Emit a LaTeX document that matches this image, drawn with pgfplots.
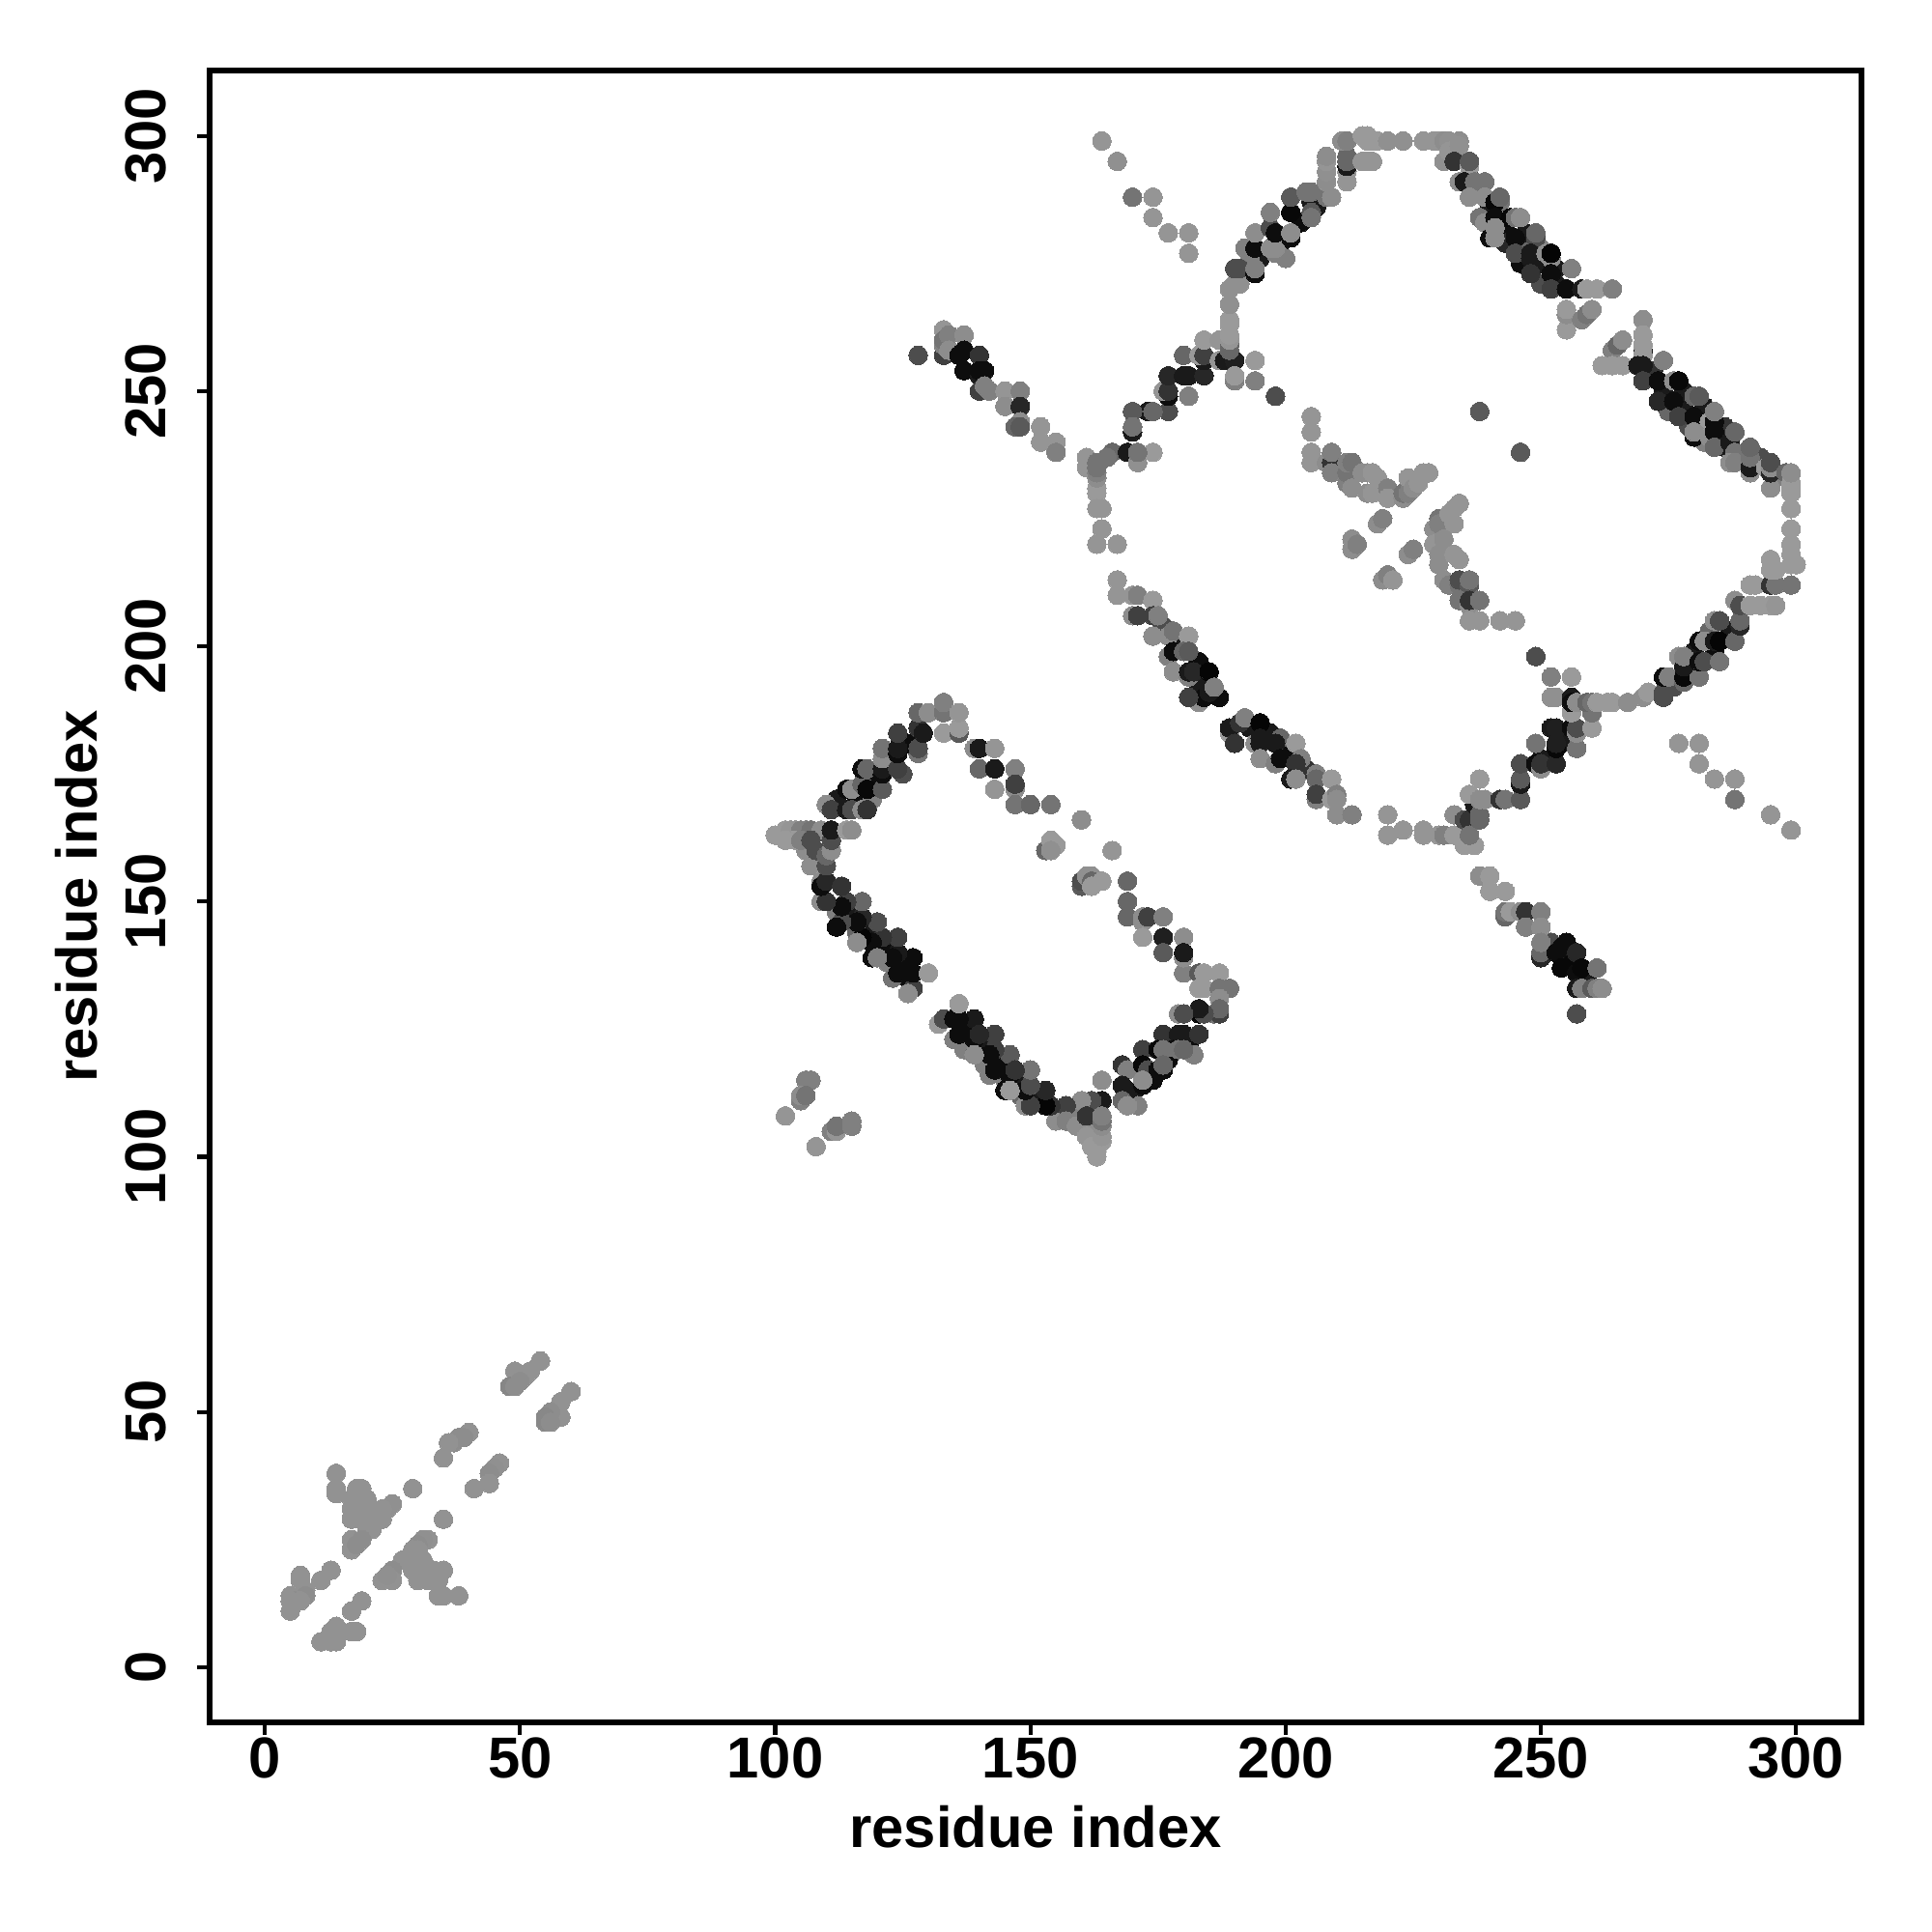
\documentclass[border=0pt]{standalone}
\usepackage{pgfplots}
\pgfplotsset{compat=1.18}
\usepackage{fontspec}
\setmainfont{Liberation Sans}
\pgfplotstableread{
x y g
236 292 .3
238 290 .1
240 286 .1
243 282 .05
243 279 .15
246 279 .4
247 281 .1
250 278 .5
250 275 .1
246 275 .05
253 274 .1
253 271 .1
250 271 .3
272 254 .2
274 250 .1
278 250 .1
278 247 .1
275 246 .4
282 247 .1
282 243 .05
279 243 .3
286 243 .2
286 239 .1
282 240 .5
290 238 .3
293 237 .3
296 233 .5
114 148 .1
118 145 .1
122 141 .05
125 138 .05
126 135 .05
120 143 .1
116 144 .4
112 148 .5
122 138 .5
138 125 .05
141 122 .1
145 118 .1
148 115 .1
152 111 .1
155 109 .3
144 119 .05
137 121 .5
141 118 .5
145 115 .5
148 112 .4
155 107 .55
158 108 .4
170 112 .1
174 115 .05
177 119 .05
181 122 .05
182 120 .5
171 110 .5
112 170 .1
116 170 .05
119 174 .05
122 178 .05
126 181 .05
119 170 .5
125 175 .3
195 276 .1
199 279 .05
203 283 .05
206 286 .1
193 276 .5
200 276 .5
180 200 .1
183 197 .05
183 192 .1
187 190 .05
197 183 .1
201 179 .05
193 184 .1
204 176 .2
176 204 .3
284 199 .05
280 199 .1
276 192 .3
287 203 .1
283 203 .4
255 142 .05
256 138 .03
252 142 .3
259 135 .1
250 178 .1
252 184 .1
254 181 .1
163 101 .6
163 103 .58
162 104 .58
162 106 .58
163 105 .58
163 107 .55
163 109 .5
161 106 .55
160 108 .5
}\extras
\pgfplotstableread{
x y g
164 299 .58
167 295 .56
170 288 .45
174 288 .58
174 284 .58
177 281 .58
181 281 .58
181 277 .58
177 246 .3
173 246 .1
174 246 .4
170 246 .35
170 242 .1
170 243 .45
177 249 .05
176 250 .58
177 250 .2
177 253 .15
180 253 .1
181 253 .1
184 253 .15
181 249 .5
180 257 .4
184 256 .1
183 257 .6
184 257 .25
184 260 .6
187 260 .58
187 256 .58
188 256 .1
190 256 .12
194 256 .6
194 252 .5
190 252 .5
190 253 .6
198 249 .3
189 258 .4
189 259 .4
189 260 .58
189 261 .6
189 263 .6
189 264 .6
189 267 .56
189 270 .56
190 271 .56
191 271 .56
190 274 .3
191 274 .3
194 273 .05
192 278 .5
194 274 .5
194 278 .05
194 281 .55
198 277 .5
197 278 .55
198 278 .55
197 282 .3
198 281 .05
201 280 .05
201 281 .55
197 285 .5
201 285 .03
201 288 .35
205 287 .1
205 285 .35
205 284 .45
204 289 .45
205 289 .45
208 288 .45
209 288 .55
208 291 .55
208 293 .56
208 295 .58
208 296 .55
212 291 .58
212 293 .58
212 294 .1
212 295 .4
212 296 .4
211 299 .55
212 299 .5
215 300 .6
216 300 .6
216 299 .6
217 299 .6
218 299 .6
220 299 .56
223 299 .56
227 299 .58
229 299 .58
230 299 .58
231 299 .55
215 295 .58
216 295 .58
217 295 .58
231 295 .56
%
174 238 .6
166 238 .4
165 237 .45
169 238 .1
171 236 .56
171 238 .45
161 237 .58
161 235 .58
163 230 .6
163 231 .6
163 233 .55
163 234 .5
163 235 .45
163 236 .45
163 227 .58
164 227 .58
164 223 .58
163 220 .58
167 220 .58
167 213 .58
167 210 .58
170 210 .58
171 210 .5
174 209 .6
170 206 .55
171 206 .25
174 206 .25
175 206 .5
174 202 .05
174 202 .55
177 202 .55
178 203 .45
181 202 .6
177 198 .5
178 199 .05
180 199 .4
181 199 .35
178 195 .55
181 194 .5
181 195 .1
182 195 .15
185 195 .02
183 189 .55
184 190 .05
185 191 .1
186 192 .5
181 190 .25
189 183 .6
189 184 .1
191 185 .2
192 186 .5
190 181 .2
195 185 .02
194 181 .55
195 181 .1
195 182 .1
199 182 .4
198 181 .1
202 181 .6
195 178 .55
198 177 .5
199 178 .05
203 178 .5
202 177 .2
201 174 .1
202 174 .55
206 175 .5
206 174 .4
209 174 .6
206 170 .5
206 171 .25
209 170 .6
210 171 .5
210 170 .55
210 167 .55
213 167 .5
220 167 .58
220 163 .58
223 164 .58
227 163 .58
227 164 .58
230 163 .58
231 163 .5
%
233 163 .6
233 167 .55
235 166 .3
236 166 .2
235 161 .6
237 161 .6
236 163 .45
237 169 .1
238 166 .4
238 167 .4
236 171 .6
238 170 .55
239 170 .55
238 174 .6
242 170 .2
243 170 .45
246 170 .35
246 173 .1
246 174 .35
246 177 .3
249 177 .05
250 176 .55
250 177 .2
253 177 .15
249 181 .45
253 180 .03
253 181 .12
257 180 .45
253 184 .12
256 184 .05
257 183 .55
257 184 .3
260 184 .6
256 187 .6
260 187 .45
249 198 .3
252 194 .5
256 194 .6
252 190 .56
253 190 .56
256 190 .1
256 189 .05
257 189 .55
259 189 .4
260 189 .45
261 189 .6
263 189 .6
264 189 .6
267 189 .55
270 190 .55
271 191 .6
274 190 .3
274 191 .3
274 194 .05
275 194 .5
278 193 .4
278 194 .03
281 194 .45
277 198 .55
278 196 .1
278 198 .5
281 197 .05
282 197 .3
285 197 .45
281 201 .05
282 201 .55
284 201 .1
285 201 .02
288 201 .4
284 205 .55
285 205 .3
289 204 .15
289 205 .4
288 209 .55
289 208 .3
291 208 .6
293 208 .6
295 208 .6
296 208 .58
291 212 .6
292 212 .6
295 212 .2
296 212 .45
299 212 .45
295 215 .6
296 215 .6
295 217 .6
299 216 .6
299 218 .6
300 216 .6
299 220 .6
299 223 .6
299 227 .6
%
234 299 .55
232 299 .56
232 297 .58
234 298 .56
233 295 .2
236 294 .6
236 295 .35
234 291 .55
235 291 .1
237 291 .45
239 291 .45
236 288 .55
239 288 .55
242 287 .45
241 287 .03
242 288 .4
238 284 .45
240 283 .05
239 283 .55
241 284 .05
244 284 .03
245 284 .45
246 284 .55
240 280 .05
241 280 .55
241 282 .55
245 280 .05
249 280 .3
249 281 .4
245 277 .3
248 276 .1
248 277 .1
251 277 .55
252 276 .55
252 277 .02
248 273 .2
252 273 .05
256 274 .5
252 270 .25
255 270 .05
258 270 .1
259 270 .6
261 270 .6
264 270 .5
255 262 .6
255 265 .55
255 266 .6
258 264 .5
259 265 .45
260 266 .55
%
270 264 .55
270 261 .6
270 258 .1
270 259 .6
270 257 .6
264 258 .5
265 259 .4
266 260 .55
262 255 .6
264 255 .6
266 255 .6
269 255 .1
270 255 .1
274 256 .5
270 252 .25
273 252 .05
276 252 .55
277 252 .03
273 248 .15
276 248 .05
280 249 .4
281 249 .35
277 245 .25
280 245 .05
283 244 .6
284 244 .05
284 246 .5
280 241 .05
280 242 .55
283 241 .55
284 242 .05
284 239 .4
287 240 .1
288 242 .4
288 238 .45
287 236 .55
288 236 .5
291 234 .55
291 235 .1
291 237 .45
291 239 .4
294 235 .6
295 231 .55
295 234 .15
295 235 .55
295 236 .3
298 234 .4
299 230 .6
299 231 .6
299 232 .6
299 234 .55
238 246 .35
246 238 .35
%
238 155 .55
240 155 .6
240 152 .6
243 152 .6
243 147 .4
243 148 .45
244 148 .6
246 148 .55
247 148 .2
250 148 .5
247 145 .5
250 145 .55
250 139 .15
250 140 .4
250 142 .5
253 140 .05
254 141 .05
257 140 .15
254 137 .03
257 136 .05
258 137 .03
261 137 .45
257 133 .1
258 133 .5
260 133 .35
261 133 .5
262 133 .55
257 128 .3
277 181 .58
281 181 .58
281 177 .58
284 174 .58
288 174 .58
288 170 .45
295 167 .58
299 164 .58
%
128 257 .3
133 262 .58
133 257 .25
133 259 .5
133 260 .45
134 261 .5
134 258 .55
137 261 .55
136 257 .05
137 258 .05
140 257 .2
137 254 .05
140 253 .1
140 254 .05
141 254 .05
140 250 .25
141 251 .5
142 250 .5
145 250 .58
148 250 .5
145 247 .55
148 247 .15
148 244 .55
147 243 .4
148 243 .35
152 243 .58
152 240 .58
155 240 .58
155 238 .5
%
205 245 .58
205 242 .58
205 238 .58
205 236 .58
208 236 .55
209 236 .2
209 238 .5
209 234 .5
212 232 .5
212 234 .45
212 236 .5
213 236 .45
213 231 .55
215 234 .55
216 230 .55
216 234 .55
217 230 .58
217 234 .58
218 233 .58
220 231 .5
220 229 .58
223 229 .55
223 230 .45
224 230 .5
224 233 .58
225 231 .55
226 232 .58
227 234 .58
228 234 .58
218 224 .55
219 225 .5
213 221 .55
213 219 .55
214 220 .5
224 218 .55
225 219 .5
219 213 .55
220 214 .5
221 213 .58
229 223 .55
230 225 .45
231 224 .55
230 224 .5
232 226 .58
233 227 .58
234 228 .58
233 224 .58
229 220 .58
231 221 .55
230 218 .55
230 216 .55
233 218 .58
234 217 .58
231 213 .55
232 212 .5
234 212 .45
234 213 .3
236 212 .35
236 213 .45
234 209 .45
236 208 .55
236 209 .2
238 209 .45
236 205 .58
238 205 .58
242 205 .58
245 205 .58
%
180 136 .5
183 136 .35
184 136 .6
187 136 .6
183 133 .6
184 133 .6
187 133 .45
189 133 .45
187 131 .55
186 128 .45
187 128 .25
187 129 .4
183 128 .02
184 128 .3
183 129 .1
179 128 .55
180 128 .3
176 124 .2
179 124 .1
180 124 .1
183 124 .2
172 121 .25
178 121 .05
175 121 .03
176 121 .45
179 121 .45
180 121 .4
168 118 .2
169 117 .5
172 118 .03
173 117 .3
175 117 .05
176 117 .05
176 118 .4
168 114 .1
169 113 .1
172 114 .05
172 115 .55
168 111 .4
169 110 .55
164 115 .55
164 111 .1
162 111 .3
160 111 .55
157 110 .25
157 107 .5
159 106 .55
161 108 .2
161 104 .58
162 102 .6
163 100 .6
164 103 .6
164 104 .58
164 106 .55
164 107 .45
164 108 .5
154 110 .2
153 110 .02
153 113 .15
149 110 .55
150 110 .25
149 113 .05
150 114 .3
150 117 .45
146 120 .35
146 116 .05
147 117 .2
145 113 .05
146 113 .6
143 124 .25
143 121 .25
142 120 .05
142 116 .5
143 117 .05
139 127 .1
139 123 .05
140 124 .15
139 120 .05
139 120 .55
132 126 .6
133 127 .3
135 123 .5
135 127 .05
136 127 .05
136 124 .05
136 130 .6
%
127 133 .25
126 132 .55
127 136 .05
130 136 .6
127 139 .05
123 135 .45
124 136 .05
124 140 .1
123 139 .05
124 143 .25
121 143 .2
120 146 .3
119 139 .05
119 142 .05
120 139 .5
117 143 .02
116 142 .55
117 147 .15
116 146 .05
117 150 .4
113 146 .3
112 145 .05
114 150 .25
113 149 .05
109 150 .55
110 150 .2
109 154 .55
109 153 .05
110 154 .15
113 153 .2
107 157 .55
110 157 .3
106 160 .55
108 160 .3
110 159 .4
111 160 .55
100 163 .6
102 164 .6
103 164 .58
104 164 .58
105 164 .5
106 164 .5
107 164 .45
109 164 .55
102 162 .6
104 162 .6
105 162 .5
107 162 .3
111 162 .3
111 164 .1
114 164 .6
115 164 .55
110 169 .55
111 168 .25
114 168 .1
115 168 .3
117 168 .55
118 168 .2
114 172 .05
115 172 .55
117 173 .4
118 172 .03
121 172 .35
117 176 .05
118 176 .4
121 175 .05
121 176 .1
121 178 .55
121 180 .45
124 176 .25
124 179 .05
124 180 .1
124 183 .25
128 179 .45
128 180 .3
128 184 .2
129 183 .1
128 187 .4
130 187 .55
133 183 .6
133 187 .45
133 189 .5
136 183 .35
136 184 .6
136 187 .58
139 180 .55
140 180 .1
143 180 .58
140 176 .4
143 176 .1
147 176 .5
143 172 .58
147 172 .55
147 173 .25
147 169 .45
150 169 .4
154 169 .45
%
153 160 .4
154 162 .6
155 161 .6
154 160 .56
166 160 .58
160 166 .55
160 153 .35
160 154 .3
161 155 .56
162 155 .56
162 154 .4
162 153 .6
164 154 .6
169 154 .4
169 150 .4
169 147 .4
172 146 .55
172 147 .55
173 147 .25
176 147 .5
172 143 .6
176 143 .12
180 143 .55
176 140 .35
180 139 .55
180 140 .1
%
102 108 .58
108 102 .58
106 115 .5
107 115 .5
105 111 .5
105 112 .55
106 112 .45
111 105 .5
112 105 .58
112 106 .45
115 106 .5
115 107 .5
%
54 60 .57
52 58 .57
49 58 .57
51 57 .57
50 56 .55
48 55 .52
49 55 .55
60 54 .57
58 52 .57
58 49 .57
56 50 .55
55 48 .53
55 49 .53
56 48 .55
40 46 .57
39 45 .55
38 45 .55
37 44 .55
36 44 .57
35 41 .57
46 40 .57
45 39 .56
44 38 .55
44 36 .57
41 35 .57
29 35 .57
35 29 .57
14 38 .57
14 35 .57
14 34 .57
18 35 .57
19 35 .57
17 33 .57
18 33 .57
19 33 .57
20 33 .57
25 32 .56
24 31 .56
23 31 .57
21 31 .57
17 31 .57
18 31 .57
19 31 .57
17 29 .57
19 29 .57
21 29 .57
23 29 .57
20 27 .57
21 27 .57
17 25 .57
19 25 .55
17 23 .57
18 24 .55
32 25 .57
31 25 .56
30 24 .55
29 23 .57
30 23 .57
27 21 .57
29 21 .57
31 21 .57
33 19 .57
35 19 .57
29 19 .57
31 19 .57
25 19 .55
30 17 .57
32 17 .57
34 17 .57
23 17 .57
25 17 .57
24 18 .56
34 14 .57
35 14 .57
38 14 .57
7 18 .57
7 17 .57
13 19 .57
11 17 .57
8 15 .57
8 14 .55
5 14 .57
6 13 .55
5 11 .57
7 13 .57
5 13 .57
19 13 .57
17 11 .57
14 8 .57
18 7 .57
17 7 .57
15 7 .57
13 7 .57
13 6 .57
11 5 .57
14 5 .57
13 5 .57
}\contacts
\begin{document}
\begin{tikzpicture}
\useasboundingbox (0,0) rectangle (20cm,20cm);
\begin{axis}[
  at={(2.17cm,2.17cm)}, anchor=south west,
  scale only axis, width=17.1cm, height=17.1cm,
  xmin=-10.8, xmax=312.8, ymin=-10.8, ymax=312.8,
  axis line style={line width=1.6pt, black},
  tick style={line width=1.2pt, black},
  tick align=outside, major tick length=0.13cm,
  xtick pos=lower, ytick pos=left,
  xtick={0,50,100,150,200,250,300}, ytick={0,50,100,150,200,250,300},
  xticklabels={0,50,100,150,200,250,300},
  yticklabels={0,50,100,150,200,250,300},
  ticklabel style={font=\fontsize{17}{20}\selectfont\bfseries},
  xticklabel style={inner sep=0pt, yshift=-0.02cm},
  yticklabel style={rotate=90, anchor=south, inner sep=0pt, yshift=0.31cm},
  xlabel={residue index}, ylabel={residue index},
  every axis x label/.style={at={(axis description cs:0.5,-0.0634)},anchor=center,font=\fontsize{17}{20}\selectfont\bfseries},
  every axis y label/.style={at={(axis description cs:-0.0805,0.5)},anchor=center,rotate=90,font=\fontsize{17}{20}\selectfont\bfseries},
  colormap={g}{gray(0cm)=(0); gray(1cm)=(1)},
  point meta min=0, point meta max=1,
  clip=true,
]
\addplot[scatter, only marks, mark=*, mark size=2.75pt,
  mark options={line width=0pt},
  scatter src=explicit,
  scatter/use mapped color={draw=mapped color, fill=mapped color}]
  table[x=x, y=y, meta=g] {\extras};
\addplot[scatter, only marks, mark=*, mark size=2.75pt,
  mark options={line width=0pt},
  scatter src=explicit,
  scatter/use mapped color={draw=mapped color, fill=mapped color}]
  table[x=x, y=y, meta=g] {\contacts};
\end{axis}
\end{tikzpicture}
\end{document}
